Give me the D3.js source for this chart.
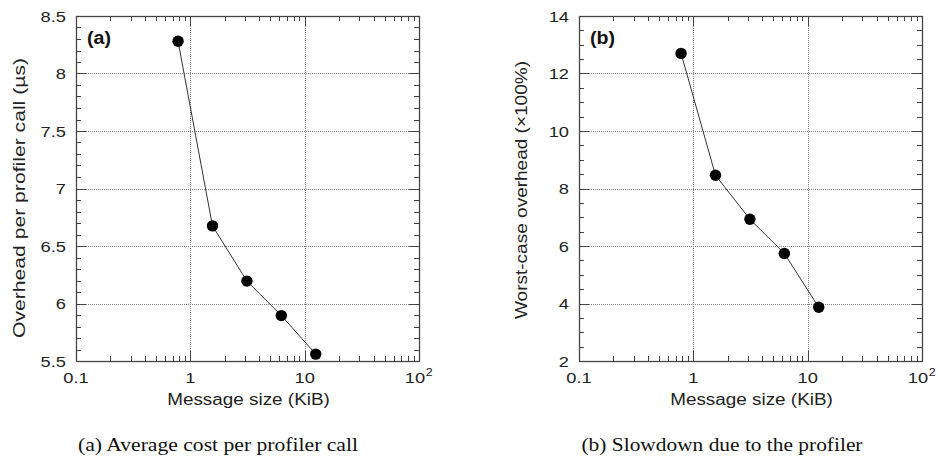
<!DOCTYPE html>
<html><head><meta charset="utf-8">
<script src="https://cdn.jsdelivr.net/npm/d3@7"></script>
<style>body{margin:0;background:#fff;}svg{display:block;}</style>
</head><body>
<svg id="chart" width="938" height="460"></svg>
<script>
// Data
const messageSizes = [0.78125, 1.5625, 3.125, 6.25, 12.5];           // KiB
const overheadPerCall = [8.28, 6.675, 6.195, 5.895, 5.56];           // µs
const worstCaseOverhead = [12.7, 8.46, 6.93, 5.74, 3.87];            // ×100%
const xTickValues = [0.1, 1, 10, 100];
const xTickLabels = ["0.1", "1", "10", "10^2"];
const yTicksA = [5.5, 6, 6.5, 7, 7.5, 8, 8.5];
const yTicksB = [2, 4, 6, 8, 10, 12, 14];
const captions = ["(a) Average cost per profiler call", "(b) Slowdown due to the profiler"];

const svg = d3.select("#chart");
const sans = "'Liberation Sans', Arial, Helvetica, sans-serif";
const serif = "'Liberation Serif', 'Times New Roman', serif";
const HS = 1.18; // horizontal glyph stretch seen in the reference

function stretch(sel, k) {
  sel.each(function() {
    const l = this.getComputedTextLength();
    this.setAttribute("textLength", l * k);
    this.setAttribute("lengthAdjust", "spacingAndGlyphs");
  });
}

function panel(cfg) {
  const g = svg.append("g");
  const x = d3.scaleLog().domain([0.1, 100]).range([cfg.left, cfg.left + 343]);
  const y = d3.scaleLinear().domain(cfg.yDomain).range([361, 16]);
  const [x0, x1] = x.range(), [y0, y1] = y.range();

  const minorX = [];
  [0.1, 1, 10].forEach(d => { for (let k = 2; k <= 9; k++) minorX.push(d * k); });
  const minorY = d3.range(cfg.yDomain[0], cfg.yDomain[1] + 1e-9, cfg.minorStep)
    .filter(v => !cfg.yTicks.some(t => Math.abs(t - v) < 1e-9));
  const px = v => Math.round(x(v)) + 0.5, py = v => Math.round(y(v)) + 0.5;

  // grid
  const grid = g.append("g").attr("stroke", "#808080").attr("stroke-width", 1).attr("stroke-dasharray", "1,1");
  grid.selectAll("line.gx").data([1, 10]).join("line")
    .attr("x1", px).attr("x2", px).attr("y1", y1).attr("y2", y0);
  grid.selectAll("line.gy").data(cfg.yTicks.slice(1, -1)).join("line")
    .attr("y1", py).attr("y2", py).attr("x1", x0).attr("x2", x1);

  // ticks
  const tk = g.append("g").attr("stroke", "#444").attr("stroke-width", 1);
  const majX = [1, 10];
  tk.selectAll("line.mx1").data(majX).join("line").attr("x1", px).attr("x2", px).attr("y1", y0).attr("y2", y0 - 10);
  tk.selectAll("line.mx2").data(majX).join("line").attr("x1", px).attr("x2", px).attr("y1", y1).attr("y2", y1 + 10);
  tk.selectAll("line.nx1").data(minorX).join("line").attr("x1", px).attr("x2", px).attr("y1", y0).attr("y2", y0 - 5);
  tk.selectAll("line.nx2").data(minorX).join("line").attr("x1", px).attr("x2", px).attr("y1", y1).attr("y2", y1 + 5);
  tk.selectAll("line.my1").data(cfg.yTicks).join("line").attr("y1", py).attr("y2", py).attr("x1", x0).attr("x2", x0 + 10);
  tk.selectAll("line.my2").data(cfg.yTicks).join("line").attr("y1", py).attr("y2", py).attr("x1", x1).attr("x2", x1 - 10);
  tk.selectAll("line.ny1").data(minorY).join("line").attr("y1", py).attr("y2", py).attr("x1", x0).attr("x2", x0 + 5);
  tk.selectAll("line.ny2").data(minorY).join("line").attr("y1", py).attr("y2", py).attr("x1", x1).attr("x2", x1 - 5);

  // frame
  g.append("rect").attr("x", Math.round(x0) + 0.5).attr("y", y1 + 0.5)
    .attr("width", Math.round(x1 - x0)).attr("height", Math.round(y0 - y1))
    .attr("fill", "none").attr("stroke", "#444").attr("stroke-width", 1.3);

  // y tick labels
  const yl = g.append("g").selectAll("text").data(cfg.yTicks).join("text")
    .attr("x", x0 - 10).attr("y", d => y(d)).attr("dy", "0.36em")
    .attr("text-anchor", "end").attr("font-family", sans).attr("font-size", 15.5).attr("fill", "#222")
    .text(d => d3.format("~g")(d));
  stretch(yl, HS);

  // x tick labels
  const xg = g.append("g");
  xTickValues.forEach((v, i) => {
    const lab = xTickLabels[i];
    if (lab.includes("^")) {
      const [b, e] = lab.split("^");
      const t = xg.append("text").attr("x", x(v) - 4).attr("y", y0 + 22).attr("text-anchor", "middle")
        .attr("font-family", sans).attr("font-size", 15.5).attr("fill", "#222").text(b);
      stretch(t, HS);
      const w = t.node().getComputedTextLength();
      const s = xg.append("text").attr("x", x(v) - 4 + w / 2 + 0.5).attr("y", y0 + 15)
        .attr("font-family", sans).attr("font-size", 10.5).attr("fill", "#222").text(e);
      stretch(s, HS);
    } else {
      const t = xg.append("text").attr("x", x(v)).attr("y", y0 + 22).attr("text-anchor", "middle")
        .attr("font-family", sans).attr("font-size", 15.5).attr("fill", "#222").text(lab);
      stretch(t, HS);
    }
  });

  // axis titles
  const xt = g.append("text").attr("x", (x0 + x1) / 2 + 1).attr("y", y0 + 44)
    .attr("text-anchor", "middle").attr("font-family", sans).attr("font-size", 16).attr("fill", "#222")
    .text("Message size (KiB)");
  stretch(xt, HS);
  g.append("text").attr("transform", `translate(${cfg.yTitleX},${cfg.yTitleY}) rotate(-90)`)
    .attr("text-anchor", "middle").attr("font-family", sans).attr("font-size", 16.5).attr("fill", "#222")
    .attr("textLength", cfg.yTitleLen).attr("lengthAdjust", "spacingAndGlyphs")
    .text(cfg.yTitle);

  // panel label
  const pl = g.append("text").attr("x", x0 + 11).attr("y", 44)
    .attr("font-family", sans).attr("font-weight", "bold").attr("font-size", 17.5).attr("fill", "#111")
    .text(cfg.label);
  stretch(pl, 1.12);

  // data line + points
  const line = d3.line().x(d => x(d[0])).y(d => y(d[1]));
  const pts = messageSizes.map((s, i) => [s, cfg.values[i]]);
  g.append("path").datum(pts).attr("d", line).attr("fill", "none").attr("stroke", "#333").attr("stroke-width", 1);
  g.selectAll("circle").data(pts).join("circle")
    .attr("cx", d => x(d[0])).attr("cy", d => y(d[1])).attr("r", 5.7).attr("fill", "#000");

  // caption
  g.append("text").attr("x", cfg.captionX).attr("y", 451)
    .attr("text-anchor", "middle").attr("font-family", serif).attr("font-size", 19).attr("fill", "#111")
    .attr("textLength", cfg.captionLen).attr("lengthAdjust", "spacingAndGlyphs")
    .text(cfg.caption);
}

panel({left: 76, yDomain: [5.5, 8.5], yTicks: yTicksA, minorStep: 0.1, values: overheadPerCall,
  yTitle: "Overhead per profiler call (\u00b5s)", yTitleX: 25, yTitleY: 198, yTitleLen: 280,
  label: "(a)", caption: captions[0], captionX: 218, captionLen: 280});
panel({left: 579, yDomain: [2, 14], yTicks: yTicksB, minorStep: 0.5, values: worstCaseOverhead,
  yTitle: "Worst-case overhead (\u00d7100%)", yTitleX: 527, yTitleY: 190, yTitleLen: 258,
  label: "(b)", caption: captions[1], captionX: 722, captionLen: 281});
</script>
</body></html>
